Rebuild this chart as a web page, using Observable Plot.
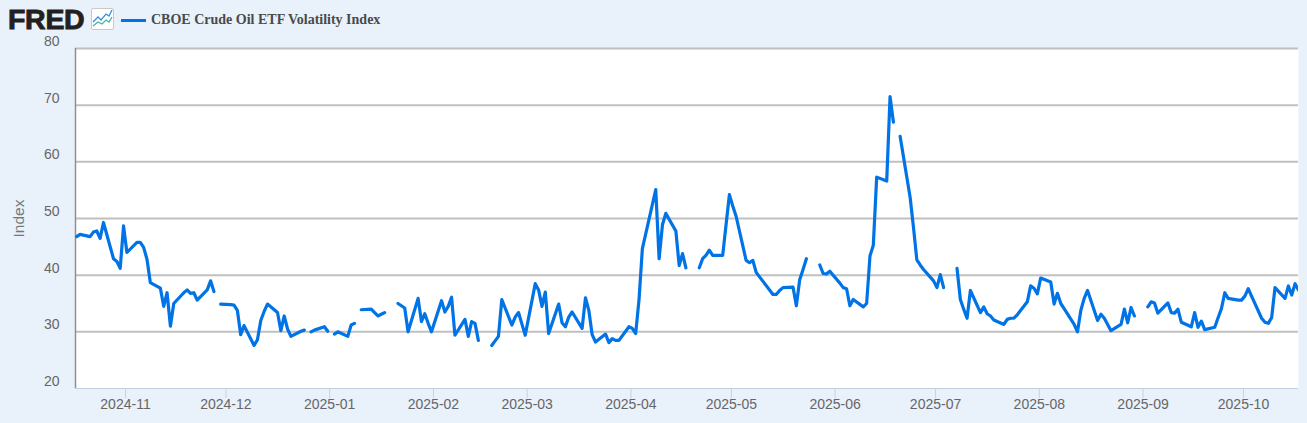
<!DOCTYPE html>
<html><head><meta charset="utf-8">
<script src="https://cdn.jsdelivr.net/npm/d3@7"></script>
<script src="https://cdn.jsdelivr.net/npm/@observablehq/plot@0.6"></script>
<style>
html,body{margin:0;padding:0;background:#e9f1fa;width:1307px;height:423px;overflow:hidden}
#head{position:relative;height:33px;width:1307px}
#logo{position:absolute;left:8px;top:3px;font:bold 28.5px/33px "Liberation Sans";color:#231f20;-webkit-text-stroke:0.9px #231f20;letter-spacing:-0.3px}
#icon{position:absolute;left:91px;top:8px}
#swatch{position:absolute;left:121px;top:18.5px;width:25px;height:3px;background:#0073e6}
#leg{position:absolute;left:151px;top:11px;font:bold 14px/17px "Liberation Serif";color:#4a4a4a;white-space:nowrap}
svg{display:block}
</style></head><body>
<div id="head">
<div id="logo">FRED</div>
<svg id="icon" width="23" height="22" viewBox="0 0 23 22"><rect x="0.5" y="0.5" width="22" height="21" rx="1.5" fill="#fff" stroke="#c9c9c9"/><path d="M2 14 L7 9 L10 12 L15 6 L18 8 L21 2" fill="none" stroke="#3a8fe0" stroke-width="1.3"/><path d="M2 18 L7 14 L11 16 L15 12 L18 14 L21 9" fill="none" stroke="#45b39d" stroke-width="1.3"/></svg>
<div id="swatch"></div>
<div id="leg">CBOE Crude Oil ETF Volatility Index</div>
</div>
<div id="chart"></div>
<script>
const seriesName = "CBOE Crude Oil ETF Volatility Index";
const yLabel = "Index";
const dates = [
"2024-10-17","2024-10-18","2024-10-21","2024-10-22","2024-10-23","2024-10-24","2024-10-25","2024-10-28","2024-10-29","2024-10-30","2024-10-31",
"2024-11-01","2024-11-04","2024-11-05","2024-11-06","2024-11-07","2024-11-08","2024-11-11","2024-11-12","2024-11-13","2024-11-14","2024-11-15","2024-11-18","2024-11-19","2024-11-20","2024-11-21","2024-11-22","2024-11-25","2024-11-26","2024-11-27","2024-11-28","2024-11-29",
"2024-12-02","2024-12-03","2024-12-04","2024-12-05","2024-12-06","2024-12-09","2024-12-10","2024-12-11","2024-12-12","2024-12-13","2024-12-16","2024-12-17","2024-12-18","2024-12-19","2024-12-20","2024-12-23","2024-12-24","2024-12-25","2024-12-26","2024-12-27","2024-12-30","2024-12-31",
"2025-01-01","2025-01-02","2025-01-03","2025-01-06","2025-01-07","2025-01-08","2025-01-09","2025-01-10","2025-01-13","2025-01-14","2025-01-15","2025-01-16","2025-01-17","2025-01-20","2025-01-21","2025-01-22","2025-01-23","2025-01-24","2025-01-27","2025-01-28","2025-01-29","2025-01-30","2025-01-31",
"2025-02-03","2025-02-04","2025-02-05","2025-02-06","2025-02-07","2025-02-10","2025-02-11","2025-02-12","2025-02-13","2025-02-14","2025-02-17","2025-02-18","2025-02-19","2025-02-20","2025-02-21","2025-02-24","2025-02-25","2025-02-26","2025-02-27","2025-02-28",
"2025-03-03","2025-03-04","2025-03-05","2025-03-06","2025-03-07","2025-03-10","2025-03-11","2025-03-12","2025-03-13","2025-03-14","2025-03-17","2025-03-18","2025-03-19","2025-03-20","2025-03-21","2025-03-24","2025-03-25","2025-03-26","2025-03-27","2025-03-28","2025-03-31",
"2025-04-01","2025-04-02","2025-04-03","2025-04-04","2025-04-07","2025-04-08","2025-04-09","2025-04-10","2025-04-11","2025-04-14","2025-04-15","2025-04-16","2025-04-17","2025-04-18","2025-04-21","2025-04-22","2025-04-23","2025-04-24","2025-04-25","2025-04-28","2025-04-29","2025-04-30",
"2025-05-01","2025-05-02","2025-05-05","2025-05-06","2025-05-07","2025-05-08","2025-05-09","2025-05-12","2025-05-13","2025-05-14","2025-05-15","2025-05-16","2025-05-19","2025-05-20","2025-05-21","2025-05-22","2025-05-23","2025-05-26","2025-05-27","2025-05-28","2025-05-29","2025-05-30",
"2025-06-02","2025-06-03","2025-06-04","2025-06-05","2025-06-06","2025-06-09","2025-06-10","2025-06-11","2025-06-12","2025-06-13","2025-06-16","2025-06-17","2025-06-18","2025-06-19","2025-06-20","2025-06-23","2025-06-24","2025-06-25","2025-06-26","2025-06-27","2025-06-30",
"2025-07-01","2025-07-02","2025-07-03","2025-07-04","2025-07-07","2025-07-08","2025-07-09","2025-07-10","2025-07-11","2025-07-14","2025-07-15","2025-07-16","2025-07-17","2025-07-18","2025-07-21","2025-07-22","2025-07-23","2025-07-24","2025-07-25","2025-07-28","2025-07-29","2025-07-30","2025-07-31",
"2025-08-01","2025-08-04","2025-08-05","2025-08-06","2025-08-07","2025-08-08","2025-08-11","2025-08-12","2025-08-13","2025-08-14","2025-08-15","2025-08-18","2025-08-19","2025-08-20","2025-08-21","2025-08-22","2025-08-25","2025-08-26","2025-08-27","2025-08-28","2025-08-29",
"2025-09-01","2025-09-02","2025-09-03","2025-09-04","2025-09-05","2025-09-08","2025-09-09","2025-09-10","2025-09-11","2025-09-12","2025-09-15","2025-09-16","2025-09-17","2025-09-18","2025-09-19","2025-09-22","2025-09-23","2025-09-24","2025-09-25","2025-09-26","2025-09-29","2025-09-30",
"2025-10-01","2025-10-02","2025-10-03","2025-10-06","2025-10-07","2025-10-08","2025-10-09","2025-10-10","2025-10-13","2025-10-14","2025-10-15","2025-10-16","2025-10-17"];
const values = [
46.8,47.2,46.8,47.6,47.8,46.5,49.3,42.9,42.4,41.2,48.7,
44.0,45.8,45.8,44.9,42.8,38.7,37.7,34.5,36.9,31.0,35.0,36.9,37.4,36.8,36.9,35.6,37.4,39.0,37.1,null,34.9,
34.8,34.7,33.8,29.5,31.1,27.6,28.6,32.0,33.6,34.9,33.4,30.2,32.8,30.5,29.2,30.1,30.3,null,30.0,30.3,30.9,30.1,
null,29.6,30.0,29.2,31.2,31.5,null,33.9,34.0,33.4,32.8,33.1,33.4,null,35.0,34.6,34.2,30.0,35.9,31.8,33.2,31.5,30.0,
35.5,33.5,34.5,36.1,29.4,32.2,29.2,31.8,31.5,28.5,null,27.6,28.4,29.2,35.7,31.2,32.6,33.4,31.4,29.4,
38.5,37.4,34.5,37.0,29.7,34.9,31.6,30.9,32.6,33.5,30.6,36.0,33.8,29.5,28.2,29.6,28.1,28.8,28.5,28.5,30.9,
30.6,29.7,35.7,44.7,52.5,55.1,42.9,48.9,50.9,47.8,41.7,43.8,41.3,null,41.3,42.9,43.5,44.4,43.5,43.5,48.9,54.2,
52.2,50.4,42.6,42.2,42.6,40.5,39.7,37.4,36.6,36.6,37.3,37.8,37.9,34.6,39.2,41.0,42.9,null,41.8,40.3,40.2,40.7,
38.6,37.8,37.6,34.6,35.7,34.4,35.0,43.4,45.3,57.3,56.6,71.5,67.0,null,64.5,53.7,48.4,42.7,41.8,41.0,39.0,
37.8,40.1,37.8,null,41.2,35.7,34.0,32.4,37.3,33.4,34.4,33.2,32.8,32.1,31.3,32.2,32.4,32.4,33.0,35.3,38.1,37.7,36.7,
39.5,38.8,34.9,36.8,35.0,34.1,31.3,30.0,33.8,35.9,37.3,32.0,33.1,32.4,31.3,30.2,31.3,34.0,31.6,34.3,32.8,
null,34.4,35.3,35.1,33.3,35.1,33.4,33.3,34.0,31.7,30.9,33.4,30.8,31.9,30.4,30.8,32.5,34.1,36.9,35.9,35.6,35.6,
36.3,37.6,36.3,32.4,31.7,31.5,32.5,37.8,35.9,38.1,36.5,38.5,37.4];
const yTicks = [20,30,40,50,60,70,80];
const gridValues = [30,40,50,60,70,80];
const monthTicks = ["2024-11-01","2024-12-01","2025-01-01","2025-02-01","2025-03-01","2025-04-01","2025-05-01","2025-06-01","2025-07-01","2025-08-01","2025-09-01","2025-10-01"];

const rows = dates.map((d,i)=>({date:new Date(d+"T10:00:00Z"),value:values[i]==null?NaN:values[i]}));
const tickDates = monthTicks.map(d=>new Date(d+"T00:00:00Z"));
const fmt = d3.utcFormat("%Y-%m");
const xStart = new Date("2024-10-17T01:30:00Z");

const chart = Plot.plot({
  width:1307,height:390,
  marginTop:15,marginBottom:35,marginLeft:75,marginRight:9,
  style:{background:"transparent",fontFamily:"'Liberation Sans'",overflow:"visible"},
  x:{type:"utc",domain:[xStart,new Date("2025-10-17T10:30:00Z")]},
  y:{domain:[20,80]},
  marks:[
    Plot.frame({fill:"#fff",stroke:null}),
    Plot.ruleY(gridValues,{stroke:"#c0c0c0",strokeWidth:2}),
    Plot.ruleY([20],{stroke:"#c3cfdf",strokeWidth:1}),
    Plot.ruleX([xStart],{stroke:"#8f8f8f",strokeWidth:1.5}),
    Plot.axisX({ticks:tickDates,tickFormat:fmt,tickSize:10,tickPadding:1,stroke:"#c3d3e6",fontSize:14,fill:"#666",label:null}),
    Plot.axisY({ticks:yTicks,tickSize:0,tickPadding:16,dy:-7,fontSize:14,fill:"#666",label:null}),
    Plot.text([yLabel],{frameAnchor:"left",textAnchor:"middle",dx:-56,rotate:-90,fontSize:15.5,fill:"#777"}),
    Plot.line(rows,{x:"date",y:"value",stroke:"#0073e6",strokeWidth:3.2,strokeLinejoin:"round",clip:true})
  ]
});
document.getElementById("chart").appendChild(chart);
</script>
</body></html>
